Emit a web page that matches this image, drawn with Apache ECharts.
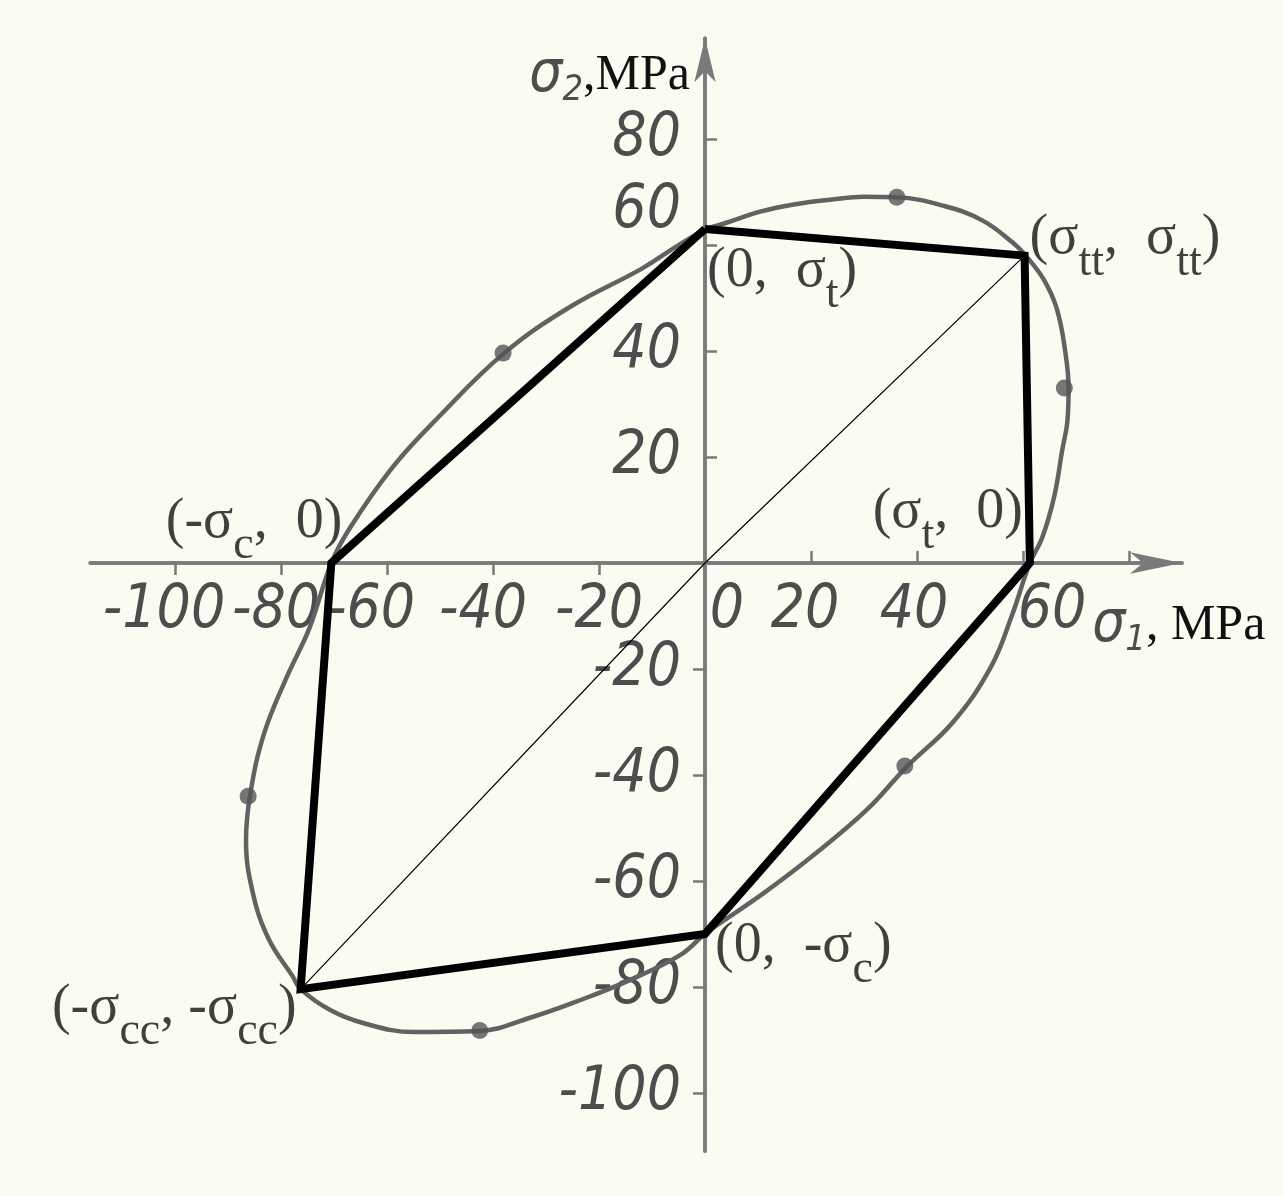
<!DOCTYPE html>
<html>
<head>
<meta charset="utf-8">
<title>Biaxial failure envelope</title>
<script src="https://cdn.jsdelivr.net/npm/echarts@6/dist/echarts.min.js"></script>
<style>
    html, body { margin: 0; padding: 0; background: #fcfbf1; }
    #chart { width: 1283px; height: 1196px; }
</style>
</head>
<body>
<div id="chart"></div>
<script>
// experimental envelope (closed curve), MPa
var envX = [0, 4, 10.4, 17, 24, 30, 36.2, 45, 52.4, 58, 60.5, 63.9, 66.4, 68, 68.6, 68.4, 67.4, 65.9, 63.6, 61.3,
    57.8, 53.9, 46.9, 38, 30.6, 20.5, 11.2, 3.5, 0, -4.7, -14.2, -23.6, -33, -42.5, -55, -64.5, -70.8, -76.3, -77.8, -82.3,
    -85.3, -86.6, -85.8, -83.2, -78.9, -74.6, -70.5, -67, -59, -50.4, -38, -25.5, -12, -5.3, 0];
var envY = [63, 64.2, 66.3, 67.7, 68.6, 69.1, 69, 67.4, 64.6, 60.5, 58, 53.5, 47.9, 39.7, 33, 27, 21.3, 12.6, 4.7, 0,
    -10.2, -19.7, -29.9, -38.5, -46.5, -55.1, -62.2, -67.5, -70, -74, -78.7, -82.5, -85.8, -88.3, -88.5, -86.8, -84.3, -80.4, -78, -71,
    -62.3, -52.3, -43.6, -32.2, -21.5, -12.2, 0, 6.6, 18, 27.4, 39.5, 48.3, 55.5, 59.8, 63];

// test points on the envelope
var dotX = [36.2, -38.1, 67.8, -86.2, 37.7, -42.5];
var dotY = [69, 39.6, 33, -44, -38.3, -88.2];

// hexagon criterion
var hexX = [0, 60.3, 61.3, 0, -76.3, -70.5, 0];
var hexY = [63, 58, 0, -70, -80.4, 0, 63];
var hexNames = ['(0,\u2002σ_t)', '(σ_tt,\u2002σ_tt)', '(σ_t,\u20020)', '(0,\u2002-σ_c)', '(-σ_cc, -σ_cc)', '(-σ_c,\u20020)'];

// diagonal sigma1 = sigma2
var diagX = [-76.3, 0, 60.3];
var diagY = [-80.4, 0, 58];

// axes
var xMin = -116, xMax = 90, yMin = -111, yMax = 99;
var xLabels = [-100, -80, -60, -40, -20, 0, 20, 40, 60];
var yLabels = [80, 60, 40, 20, -20, -40, -60, -80, -100];
var xTicksDown = [-100, -80, -60, -40, -20];
var xTicksUp = [20, 40, 60, 80];
var yTicksLeft = [-20, -40, -60, -80, -100];
var yTicksRight = [20, 40, 60, 80];

var W = 1283, H = 1196;
var grid = { left: 90.2, right: 101, top: 38.3, bottom: 44.7 };
// axes cross at the origin: move them in from the grid edges
var gridW = W - grid.left - grid.right, gridH = H - grid.top - grid.bottom;
var xAxisOffset = -gridH * (0 - yMin) / (yMax - yMin);
var yAxisOffset = -gridW * (0 - xMin) / (xMax - xMin);

var axisColor = '#7a7a7a';
var narrow = '"Liberation Sans Narrow", "DejaVu Sans Condensed", sans-serif';
var serif = '"Liberation Serif", "Times New Roman", serif';
var tickFont = { fontFamily: narrow, fontStyle: 'italic', fontSize: 60, color: '#4d4d4d' };

// hand placement of a few labels in the original
var xShift = { '-100': -11, '-80': -5, '-60': -16, '-40': -10, '-20': 0, '0': 22, '20': -6, '40': -3, '60': 29 };
var yLift = { '60': 34 };

var xRich = {};
xLabels.forEach(function (v, i) {
    var s = xShift[v] || 0;
    xRich['x' + i] = Object.assign({}, tickFont, { padding: s < 0 ? [0, -2 * s, 0, 0] : [0, 0, 0, 2 * s] });
});
var yRich = {};
yLabels.forEach(function (v, i) {
    var s = yLift[v] || 0;
    yRich['y' + i] = Object.assign({}, tickFont, { padding: [0, 0, 2 * s, 0] });
});

function richify(str) {
    return str.split(/(σ_[a-z]+)/).filter(Boolean).map(function (part) {
        if (part.indexOf('σ_') === 0) return '{p|σ}{s|' + part.slice(2) + '}';
        return '{p|' + part + '}';
    }).join('');
}

var pointRich = {
    p: { fontFamily: serif, fontSize: 56, color: '#111' },
    s: { fontFamily: serif, fontSize: 46, color: '#111', padding: [48, 0, 0, 0] }
};
var nameRich = {
    g: { fontFamily: narrow, fontStyle: 'italic', fontSize: 58, color: '#4d4d4d' },
    gs: { fontFamily: narrow, fontStyle: 'italic', fontSize: 36, color: '#4d4d4d', padding: [30, 0, 0, 0] },
    m: { fontFamily: serif, fontSize: 50, color: '#111' }
};

// where each vertex label sits relative to its vertex
var vertexLabel = [
    { align: 'left', position: [2, 42] },
    { align: 'left', position: [5, -17] },
    { align: 'right', position: [-7, -51] },
    { align: 'left', position: [10, 12] },
    { align: 'right', position: [-4, 19] },
    { align: 'right', position: [11, -41] }
];

var lineStyleAxis = { color: axisColor, width: 3.5 };
var tickStyle = { color: axisColor, width: 2.5 };

function xAxisBase(extra) {
    return Object.assign({
        type: 'value', min: xMin, max: xMax, position: 'bottom', offset: xAxisOffset,
        splitLine: { show: false },
        axisLine: { onZero: false, lineStyle: lineStyleAxis }
    }, extra);
}
function yAxisBase(extra) {
    return Object.assign({
        type: 'value', min: yMin, max: yMax, position: 'left', offset: yAxisOffset,
        splitLine: { show: false },
        axisLine: { onZero: false, lineStyle: lineStyleAxis }
    }, extra);
}

var option = {
    backgroundColor: '#fcfbf1',
    animation: false,
    grid: Object.assign({ containLabel: false, outerBoundsMode: 'none' }, grid),
    xAxis: [
        xAxisBase({
            axisLine: { onZero: false, lineStyle: lineStyleAxis, symbol: ['none', 'arrow'], symbolSize: [16, 52] },
            axisTick: { show: true, inside: false, length: 12, customValues: xTicksDown, lineStyle: tickStyle },
            axisLabel: {
                customValues: xLabels, margin: 18, hideOverlap: false,
                formatter: function (v) { return '{x' + xLabels.indexOf(v) + '|' + v + '}'; },
                rich: xRich
            },
            name: '{g|σ}{gs|1}{m|, MPa}',
            nameLocation: 'end',
            nameGap: -100,
            nameTextStyle: { align: 'left', verticalAlign: 'top', padding: [30, 0, 0, 0], rich: nameRich }
        }),
        xAxisBase({
            axisTick: { show: true, inside: true, length: 12, customValues: xTicksUp, lineStyle: tickStyle },
            axisLabel: { show: false }
        })
    ],
    yAxis: [
        yAxisBase({
            axisLine: { onZero: false, lineStyle: lineStyleAxis, symbol: ['none', 'arrow'], symbolSize: [16, 44] },
            axisTick: { show: true, inside: false, length: 12, customValues: yTicksLeft, lineStyle: tickStyle },
            axisLabel: {
                customValues: yLabels, margin: 24, hideOverlap: false,
                formatter: function (v) { return '{y' + yLabels.indexOf(v) + '|' + v + '}'; },
                rich: yRich
            },
            name: '{g|σ}{gs|2}{m|,MPa}',
            nameLocation: 'end',
            nameGap: -5,
            nameTextStyle: { align: 'right', verticalAlign: 'top', padding: [0, 15, 0, 0], rich: nameRich }
        }),
        yAxisBase({
            axisTick: { show: true, inside: true, length: 12, customValues: yTicksRight, lineStyle: tickStyle },
            axisLabel: { show: false }
        })
    ],
    series: [
        {
            name: 'envelope',
            type: 'line',
            smooth: 0.4,
            symbol: 'none',
            z: 2,
            lineStyle: { color: '#626262', width: 4.5 },
            data: envX.map(function (x, i) { return [x, envY[i]]; })
        },
        {
            name: 'diagonal',
            type: 'line',
            symbol: 'none',
            z: 3,
            lineStyle: { color: '#000', width: 1.2 },
            data: diagX.map(function (x, i) { return [x, diagY[i]]; })
        },
        {
            name: 'hexagon',
            type: 'line',
            symbol: 'none',
            z: 4,
            lineStyle: { color: '#000', width: 8, join: 'miter' },
            data: hexX.map(function (x, i) { return [x, hexY[i]]; })
        },
        {
            name: 'tests',
            type: 'scatter',
            symbol: 'circle',
            symbolSize: 17,
            z: 5,
            itemStyle: { color: '#555555' },
            data: dotX.map(function (x, i) { return [x, dotY[i]]; })
        },
        {
            name: 'vertices',
            type: 'scatter',
            symbolSize: 0,
            silent: true,
            z: 6,
            itemStyle: { color: 'transparent' },
            data: hexNames.map(function (n, i) {
                return {
                    value: [hexX[i], hexY[i]],
                    label: {
                        show: true,
                        formatter: richify(n),
                        position: vertexLabel[i].position,
                        align: vertexLabel[i].align,
                        verticalAlign: 'middle',
                        rich: pointRich
                    }
                };
            })
        }
    ]
};

var myChart = echarts.init(document.getElementById('chart'));
myChart.setOption(option);
</script>
</body>
</html>
